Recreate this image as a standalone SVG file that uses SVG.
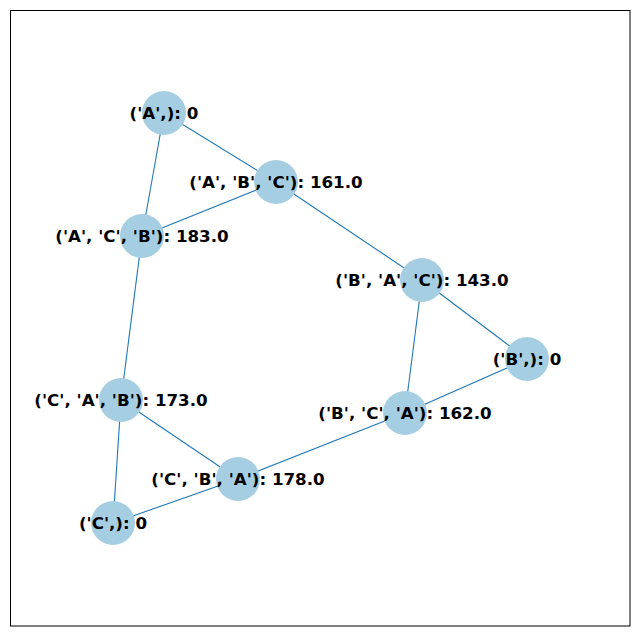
<svg xmlns="http://www.w3.org/2000/svg" width="640" height="636" viewBox="0 0 640 636">
<style>
.e{stroke:#1f78b4;stroke-width:1.1;fill:none}
.n circle{fill:#a6cee3}
.n text{font-family:"DejaVu Sans",sans-serif;font-weight:bold;font-size:16.7px;text-anchor:middle;fill:#000}
</style>
<rect x="0" y="0" width="640" height="636" fill="#fff"/>
<rect x="10.5" y="10.5" width="619.5" height="615.5" fill="none" stroke="#000" stroke-width="1"/>
<g id="edges">
<line class="e" x1="164" y1="113" x2="276" y2="182"/>
<line class="e" x1="164" y1="113" x2="142" y2="236"/>
<line class="e" x1="276" y1="182" x2="142" y2="236"/>
<line class="e" x1="276" y1="182" x2="422" y2="280"/>
<line class="e" x1="422" y1="280" x2="527" y2="359"/>
<line class="e" x1="422" y1="280" x2="405" y2="413"/>
<line class="e" x1="527" y1="359" x2="405" y2="413"/>
<line class="e" x1="142" y1="236" x2="121" y2="400"/>
<line class="e" x1="121" y1="400" x2="238" y2="479"/>
<line class="e" x1="121" y1="400" x2="113" y2="523"/>
<line class="e" x1="238" y1="479" x2="113" y2="523"/>
<line class="e" x1="238" y1="479" x2="405" y2="413"/>
</g>
<g id="nA" class="n"><circle cx="164" cy="113" r="22"/><text x="164" y="118.5">('A',): 0</text></g>
<g id="nABC" class="n"><circle cx="276" cy="182" r="22"/><text x="276" y="187.5">('A', 'B', 'C'): 161.0</text></g>
<g id="nACB" class="n"><circle cx="142" cy="236" r="22"/><text x="142" y="241.5">('A', 'C', 'B'): 183.0</text></g>
<g id="nBAC" class="n"><circle cx="422" cy="280" r="22"/><text x="422" y="285.5">('B', 'A', 'C'): 143.0</text></g>
<g id="nB" class="n"><circle cx="527" cy="359" r="22"/><text x="527" y="364.5">('B',): 0</text></g>
<g id="nCAB" class="n"><circle cx="121" cy="400" r="22"/><text x="121" y="405.5">('C', 'A', 'B'): 173.0</text></g>
<g id="nBCA" class="n"><circle cx="405" cy="413" r="22"/><text x="405" y="418.5">('B', 'C', 'A'): 162.0</text></g>
<g id="nCBA" class="n"><circle cx="238" cy="479" r="22"/><text x="238" y="484.5">('C', 'B', 'A'): 178.0</text></g>
<g id="nC" class="n"><circle cx="113" cy="523" r="22"/><text x="113" y="528.5">('C',): 0</text></g>
</svg>
